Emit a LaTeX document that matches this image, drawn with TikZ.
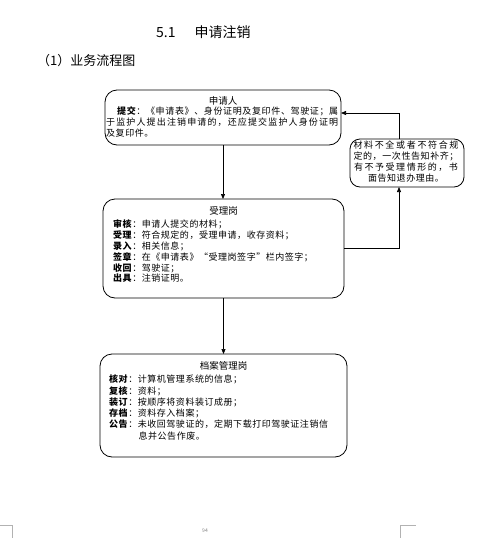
\documentclass[tikz,border=0pt]{standalone}
\usepackage{fontspec}
\usetikzlibrary{arrows.meta}
\newfontfamily\cjk{Noto Sans CJK SC}
\newfontfamily\cjkls{Noto Sans CJK SC}[LetterSpace=6]
\makeatletter
\def\spr@end{}
\def\spr#1{\spr@b#1\spr@end}
\def\spr@b#1{#1\spr@a}
\def\spr@a#1{\ifx#1\spr@end\else\hfil#1\expandafter\spr@a\fi}
\makeatother
\begin{document}
\begin{tikzpicture}[x=1pt,y=-1pt,
  box/.style={draw, line width=0.8pt, rounded corners=12pt, inner sep=0pt, outer sep=0pt},
  ln/.style={anchor=base west, inner sep=0pt, font=\cjkls\fontsize{9}{11}\selectfont},
  lnj/.style={anchor=base west, inner sep=0pt, font=\cjk\fontsize{9}{11}\selectfont},
  ttl/.style={anchor=base, inner sep=0pt, font=\cjk\fontsize{9.5}{11}\selectfont},
  sd/.style={anchor=base, inner sep=0pt, font=\cjk\fontsize{9}{11}\selectfont},
  sdl/.style={anchor=base, inner sep=0pt, font=\cjkls\fontsize{9}{11}\selectfont},
  arr/.style={-{Triangle[length=5pt,width=4pt]}, line width=0.7pt},
  cropline/.style={draw=gray!60, line width=0.6pt}]
\useasboundingbox[fill=white] (0,0) rectangle (477,538);

% headings
\node[anchor=base west, inner sep=0pt, font=\cjk\fontsize{14}{16}\selectfont] (head) at (156,37.5) {5.1\hspace{19pt}申请注销};
\node[anchor=base west, inner sep=0pt, font=\cjk\fontsize{13}{15}\selectfont] (sub) at (37,65) {（1）业务流程图};

% boxes
\node[box, minimum width=236pt, minimum height=55pt] (b1) at (223,117.5) {};
\node[box, minimum width=241pt, minimum height=99pt] (b2) at (223.5,248.5) {};
\node[box, minimum width=247pt, minimum height=103pt] (b3) at (223.5,405.5) {};
\node[box, rounded corners=10pt, minimum width=114pt, minimum height=48pt] (side) at (407,163) {};

% box 1 text
\node[ttl] (t10) at (223,104) {申请人};
\node[lnj] (t11) at (117,114) {\makebox[221pt][s]{\textbf{提}\hfil\textbf{交}\hfil\spr{：《申请表》、身份证明及复印件、驾驶证；属}}};
\node[lnj] (t12) at (106,125) {\makebox[232pt][s]{\spr{于监护人提出注销申请的，还应提交监护人身份证明}}};
\node[ln] (t13) at (106,136) {及复印件。};

% box 2 text
\node[ttl] (t20) at (223.5,214.5) {受理岗};
\node[ln] (t21) at (113,227.4) {\textbf{审核}：申请人提交的材料；};
\node[ln] (t22) at (113,238.3) {\textbf{受理}：符合规定的，受理申请，收存资料；};
\node[ln] (t23) at (113,249.2) {\textbf{录入}：相关信息；};
\node[ln] (t24) at (113,260.1) {\textbf{签章}：在《申请表》“受理岗签字”栏内签字；};
\node[ln] (t25) at (113,271.0) {\textbf{收回}：驾驶证；};
\node[ln] (t26) at (113,281.9) {\textbf{出具}：注销证明。};

% box 3 text
\node[ttl] (t30) at (223.5,369.5) {档案管理岗};
\node[ln] (t31) at (109,382.7) {\textbf{核对}：计算机管理系统的信息；};
\node[ln] (t32) at (109,394.0) {\textbf{复核}：资料；};
\node[ln] (t33) at (109,405.3) {\textbf{装订}：按顺序将资料装订成册；};
\node[ln] (t34) at (109,416.6) {\textbf{存档}：资料存入档案；};
\node[ln] (t35) at (109,427.9) {\textbf{公告}：未收回驾驶证的，定期下载打印驾驶证注销信};
\node[ln] (t36) at (138.4,439.2) {息并公告作废。};

% side box text
\node[sd] (s1) at (406,148.4) {\makebox[105pt][s]{\spr{材料不全或者不符合规}}};
\node[sd] (s2) at (406,159.4) {\makebox[105pt][s]{\spr{定的，一次性告知补齐；}}};
\node[sd] (s3) at (406,170.1) {\makebox[104pt][s]{\spr{有不予受理情形的，书}}};
\node[sdl] (s4) at (406,181.1) {面告知退办理由。};

% connectors
\coordinate (sj) at ([xshift=-8pt]side.south);
\coordinate (sk) at ([xshift=-8pt]side.north);
\coordinate (bj) at ([yshift=4.5pt]b1.east);
\draw[arr] (b1.south) -- (b1.south |- b2.north);
\draw[arr] (b2.south) -- (b2.south |- b3.north);
\draw[arr] (b2.east) -| (sj);
\draw[arr] (sk) |- (bj);

% page footer
\draw[cropline] (0,525) -- (12,525) -- (12,538);
\draw[cropline] (400,538) -- (400,525) -- (416,525);
\node[inner sep=0pt, text=gray, font=\cjk\fontsize{5}{6}\selectfont] (pg) at (205,531) {94};
\end{tikzpicture}
\end{document}
